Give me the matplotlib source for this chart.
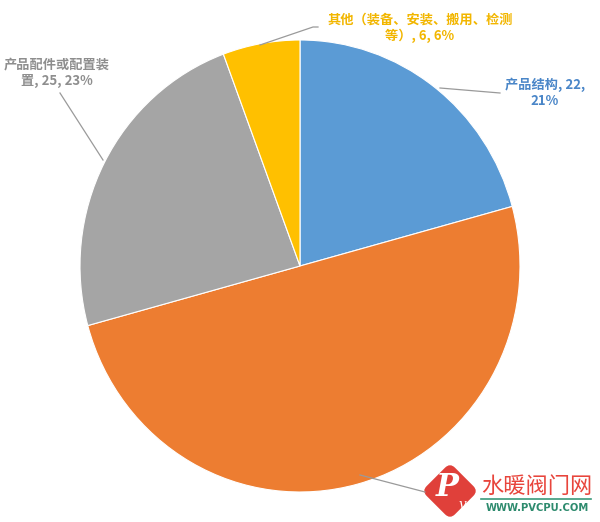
import numpy as np
import matplotlib.pyplot as plt
from matplotlib.patches import FancyBboxPatch
from matplotlib.transforms import Affine2D

plt.rcParams['font.family'] = ['Noto Sans CJK SC', 'DejaVu Sans']

# slice data, clockwise from 12 o'clock
names = ['产品结构', '', '产品配件或配置装置', '其他（装备、安装、搬用、检测等）']
values = [22, 53, 25, 6]
percents = [21, 50, 23, 6]
colors = ['#5B9BD5', '#ED7D31', '#A5A5A5', '#FFC000']

W, H = 600, 522
fig = plt.figure(figsize=(6, 5.22), dpi=100, facecolor='w')

# pie axes: centre (300, 266) px, radii 220 x 226 px
cx, cy, rx, ry = 300, 266, 220, 226
ax = fig.add_axes([(cx - rx) / W, (H - cy - ry) / H, 2 * rx / W, 2 * ry / H])
ax.pie(values, colors=colors, startangle=90, counterclock=False, radius=1,
       wedgeprops=dict(edgecolor='white', linewidth=0.8))
ax.set_xlim(-1, 1)
ax.set_ylim(-1, 1)
ax.set_aspect('auto')
ax.axis('off')

# overlay axes in pixel coordinates for labels and leader lines
ov = fig.add_axes([0, 0, 1, 1], facecolor='none')
ov.set_xlim(0, W)
ov.set_ylim(H, 0)
ov.axis('off')

lc = '#9a9a9a'
ov.plot([440, 500], [88, 93], color=lc, lw=0.9)
ov.plot([103, 60], [160, 93], color=lc, lw=0.9)
ov.plot([260, 313, 318], [45, 27, 27], color=lc, lw=0.9)
ov.plot([360, 425], [475, 492], color=lc, lw=0.9)

fs = 9.5
ls = 1.2
ov.text(545, 93, f'{names[0]}, {values[0]},\n{percents[0]}%', color='#4A86C8',
        fontsize=fs, fontweight='bold', ha='center', va='center', linespacing=ls)
ov.text(57, 73, '产品配件或配置装\n置, %d, %d%%' % (values[2], percents[2]), color='#8E8E8E',
        fontsize=fs, fontweight='bold', ha='center', va='center', linespacing=ls)
ov.text(420, 28, '其他（装备、安装、搬用、检测\n等）, %d, %d%%' % (values[3], percents[3]),
        color='#F2B600', fontsize=fs, fontweight='bold', ha='center', va='center',
        linespacing=ls)

# watermark
dx, dy = 450, 491
box = FancyBboxPatch((dx - 20, dy - 20), 40, 40, boxstyle='round,pad=0,rounding_size=7',
                     facecolor='#E0403A', edgecolor='none')
box.set_transform(Affine2D().rotate_deg_around(dx, dy, 45) + ov.transData)
ov.add_patch(box)
ov.text(dx - 3, dy - 3, 'P', color='white', fontsize=22, fontweight='bold',
        style='italic', family='DejaVu Serif', ha='center', va='center')
ov.text(dx + 12, dy + 14, 'v', color='white', fontsize=10, style='italic',
        family='DejaVu Serif', ha='center', va='center')
ov.text(537, 486, '水暖阀门网', color='#E8453C', fontsize=16, ha='center', va='center')
ov.plot([481, 591], [499, 499], color='#3A9A7A', lw=1.2)
ov.text(537, 508, 'WWW.PVCPU.COM', color='#2E8B6E', fontsize=7.2, fontweight='bold',
        family='DejaVu Sans', ha='center', va='center')

fig.savefig('out.png', dpi=100, facecolor='w')
